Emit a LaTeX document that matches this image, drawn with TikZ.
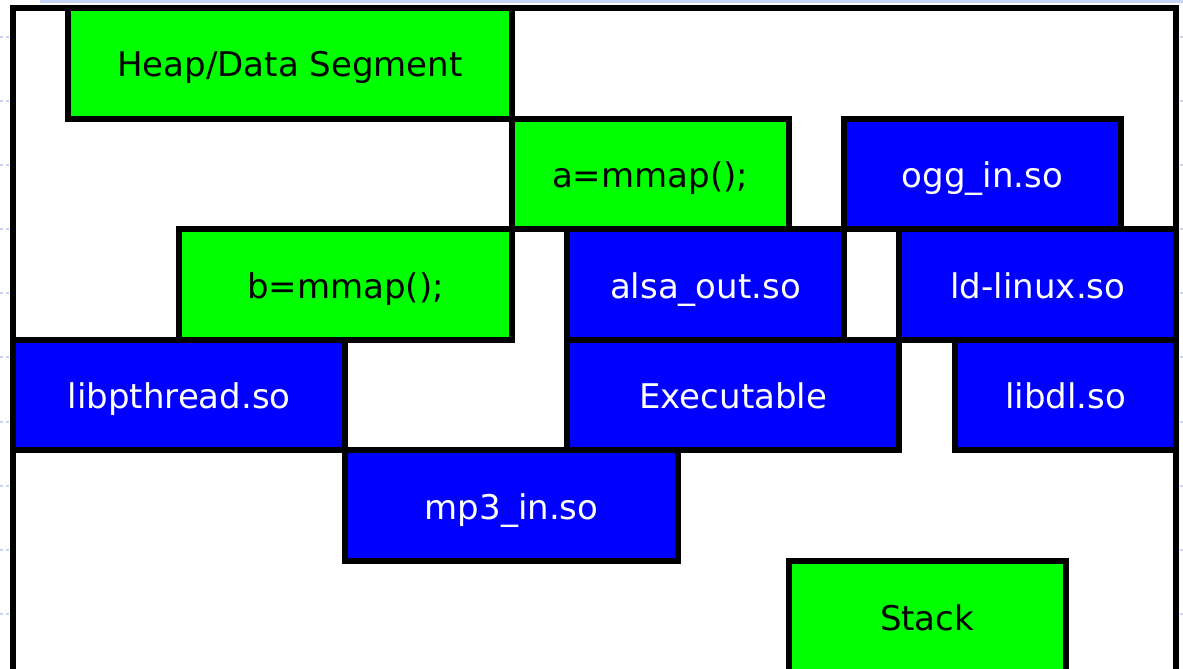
\documentclass[tikz,border=0pt]{standalone}
\usepackage{fontspec}
\setmainfont{DejaVu Sans}
\definecolor{segGreen}{HTML}{00FF00}
\definecolor{segBlue}{HTML}{0000FF}
\definecolor{gridTick}{HTML}{C8D4F4}
\tikzset{
  seg/.style={draw=black, line width=6pt, rectangle, anchor=north west, inner sep=0pt, outer sep=0pt,
    minimum height=110.6pt, text height=27.4pt, text depth=0pt, font=\fontsize{34}{40}\selectfont},
  grn/.style={seg, fill=segGreen, text=black},
  blu/.style={seg, fill=segBlue, text=white},
}
\begin{document}
\begin{tikzpicture}[x=1pt,y=-1pt]
\useasboundingbox (0,0) rectangle (1183,669);
\fill[white] (0,0) rectangle (1183,669);
% faint editor grid marks
\fill[gridTick] (40,0) rectangle (1183,3.5);
\foreach \yy in {37,101,165,229,293,357,422,486,550,614} {
  \draw[gridTick, line width=1.5pt, dash pattern=on 3pt off 3pt] (0,\yy) -- (10,\yy);
  \draw[gridTick, line width=1.5pt] (1180,\yy) -- (1183,\yy);
}
% outer frame
\node[draw=black, line width=6pt, rectangle, anchor=north west, inner sep=0pt, outer sep=0pt,
  minimum width=1163.4pt, minimum height=700pt] (frame) at (13,8) {};
% row 1
\node[grn, minimum width=443.2pt] (heap) at (68.4,8) {Heap/Data Segment};
% row 2
\node[grn, minimum width=277pt] (amap) at (511.6,118.6) {a=mmap();};
\node[blu, minimum width=277pt] (ogg) at (844,118.6) {ogg\_in.so};
% row 3
\node[grn, minimum width=332.4pt] (bmap) at (179.2,229.2) {b=mmap();};
\node[blu, minimum width=277pt] (alsa) at (567,229.2) {alsa\_out.so};
\node[blu, minimum width=277pt] (ld) at (899.4,229.2) {ld-linux.so};
% row 4
\node[blu, minimum width=332.4pt] (pthr) at (13,339.8) {libpthread.so};
\node[blu, minimum width=332.4pt] (exe) at (567,339.8) {Executable};
\node[blu, minimum width=221.6pt] (dl) at (954.8,339.8) {libdl.so};
% row 5
\node[blu, minimum width=332.4pt] (mp3) at (345.4,450.4) {mp3\_in.so};
% row 6
\node[grn, minimum width=277pt] (stack) at (788.6,561) {Stack};
\end{tikzpicture}
\end{document}
